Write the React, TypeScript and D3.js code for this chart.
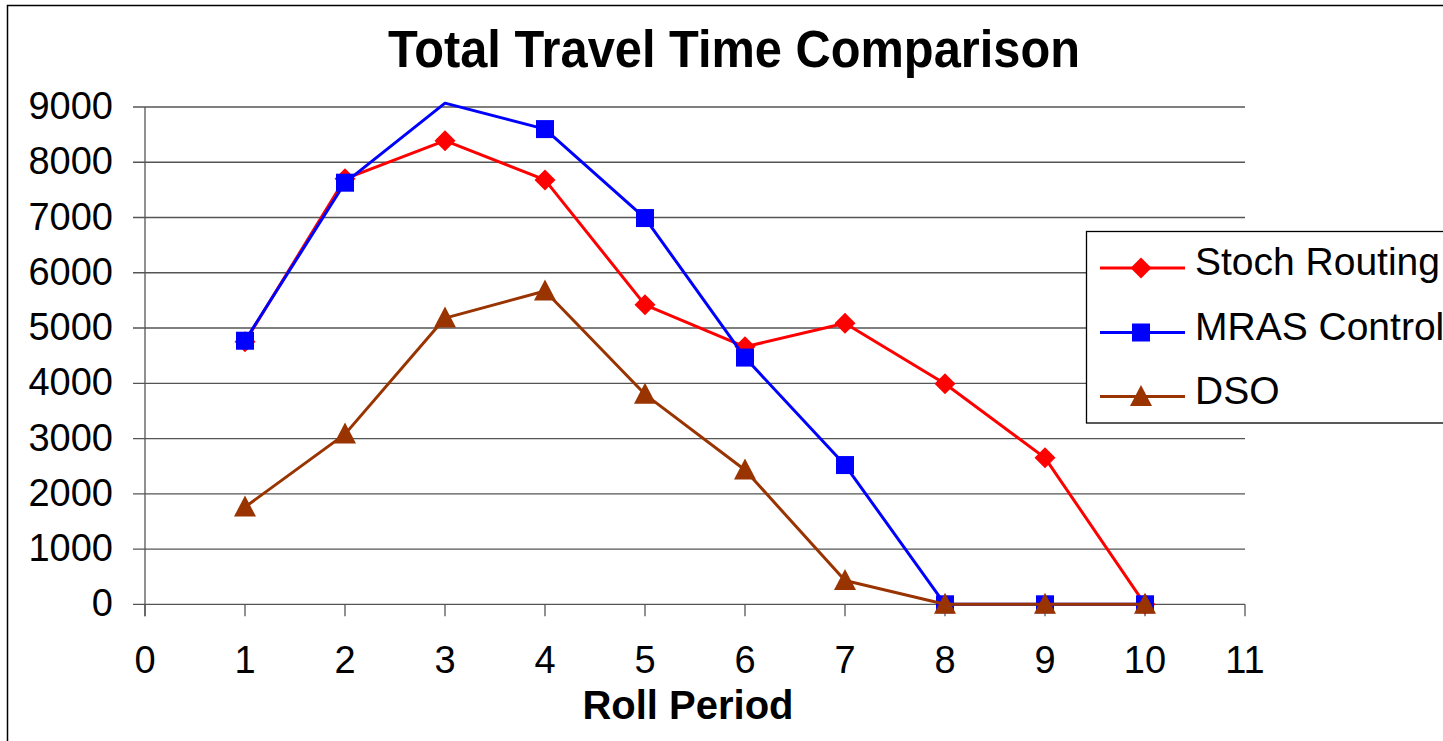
import * as d3 from "d3";

const periods = [1, 2, 3, 4, 5, 6, 7, 8, 9, 10];
const stochRouting = [4750, 7700, 8390, 7680, 5420, 4660, 5085, 3990, 2650, 0];
const mrasControl = [4770, 7630, 9070, 8600, 6990, 4465, 2520, 0, 0, 0];
const dso = [1760, 3080, 5180, 5670, 3800, 2430, 430, 0, 0, 0];

const xTicks = [0, 1, 2, 3, 4, 5, 6, 7, 8, 9, 10, 11];
const yTicks = [0, 1000, 2000, 3000, 4000, 5000, 6000, 7000, 8000, 9000];

const seriesNames = ["Stoch Routing", "MRAS Control", "DSO"];
const seriesColors = ["#ff0000", "#0000ff", "#993300"];
const seriesShapes = ["diamond", "square", "triangle"];

const W = 1443;
const H = 741;
const FONT = "'Liberation Sans', Arial, sans-serif";

function Marker({ shape, x, y, color }: { shape: string; x: number; y: number; color: string }) {
  if (shape === "diamond") {
    const r = 10.5;
    return <path d={`M${x},${y - r}L${x + r},${y}L${x},${y + r}L${x - r},${y}Z`} fill={color} />;
  }
  if (shape === "square") {
    const s = 18;
    return <rect x={x - s / 2} y={y - s / 2} width={s} height={s} fill={color} />;
  }
  const w = 22;
  const h = 21;
  return (
    <path
      d={`M${x},${y - h / 2 - 1}L${x + w / 2},${y + h / 2 - 1}L${x - w / 2},${y + h / 2 - 1}Z`}
      fill={color}
    />
  );
}

export default function App() {
  const x = d3.scaleLinear().domain([0, 11]).range([145, 1245]);
  const y = d3.scaleLinear().domain([0, 9000]).range([604.3, 107]);
  const yMax = 9000;

  const allSeries = [stochRouting, mrasControl, dso];
  const line = d3
    .line<number>()
    .x((_d, i) => x(periods[i]))
    .y((d) => y(d));

  const legendRows = [268, 332.5, 396.5];

  return (
    <div style={{ position: "fixed", left: 0, top: 0, width: W, height: H, overflow: "hidden", background: "#fff" }}>
      <svg width={W} height={H} style={{ display: "block" }}>
        <rect x={0} y={0} width={W} height={H} fill="#fff" />
        {/* chart frame (runs off the right/bottom edge) */}
        <rect x={7.5} y={5.5} width={W + 20} height={H + 20} fill="none" stroke="#000" strokeWidth={1.5} />

        <text
          x={734}
          y={67}
          textAnchor="middle"
          fontFamily={FONT}
          fontWeight="bold"
          fontSize={51}
          textLength={692}
          lengthAdjust="spacingAndGlyphs"
        >
          Total Travel Time Comparison
        </text>

        {/* gridlines + y ticks */}
        {yTicks.map((t) => (
          <g key={`y${t}`}>
            <line x1={133} x2={1245} y1={y(t)} y2={y(t)} stroke="#555" strokeWidth={1.3} />
            <text x={113} y={y(t) + 12} textAnchor="end" fontFamily={FONT} fontSize={38}>
              {t}
            </text>
          </g>
        ))}

        {/* y axis */}
        <line x1={x(0)} x2={x(0)} y1={y(yMax)} y2={y(0) + 12} stroke="#555" strokeWidth={1.3} />

        {/* x ticks */}
        {xTicks.map((t) => (
          <g key={`x${t}`}>
            <line x1={x(t)} x2={x(t)} y1={y(0)} y2={y(0) + 12} stroke="#555" strokeWidth={1.3} />
            <text x={x(t)} y={673} textAnchor="middle" fontFamily={FONT} fontSize={38}>
              {t}
            </text>
          </g>
        ))}

        <text x={688} y={719} textAnchor="middle" fontFamily={FONT} fontWeight="bold" fontSize={40}>
          Roll Period
        </text>

        {/* series */}
        {allSeries.map((s, si) => (
          <g key={seriesNames[si]}>
            <path d={line(s) ?? ""} fill="none" stroke={seriesColors[si]} strokeWidth={3} strokeLinejoin="round" />
            {s.map((v, i) =>
              v > yMax ? null : (
                <Marker key={i} shape={seriesShapes[si]} x={x(periods[i])} y={y(v)} color={seriesColors[si]} />
              )
            )}
          </g>
        ))}

        {/* legend */}
        <rect x={1086.5} y={231.5} width={400} height={191.5} fill="#fff" stroke="#000" strokeWidth={1.3} />
        {seriesNames.map((name, i) => (
          <g key={name}>
            <line x1={1100} x2={1185} y1={legendRows[i]} y2={legendRows[i]} stroke={seriesColors[i]} strokeWidth={3} />
            <Marker shape={seriesShapes[i]} x={1141} y={legendRows[i]} color={seriesColors[i]} />
            <text x={1195} y={legendRows[i] + 7} fontFamily={FONT} fontSize={39}>
              {name}
            </text>
          </g>
        ))}
      </svg>
    </div>
  );
}
